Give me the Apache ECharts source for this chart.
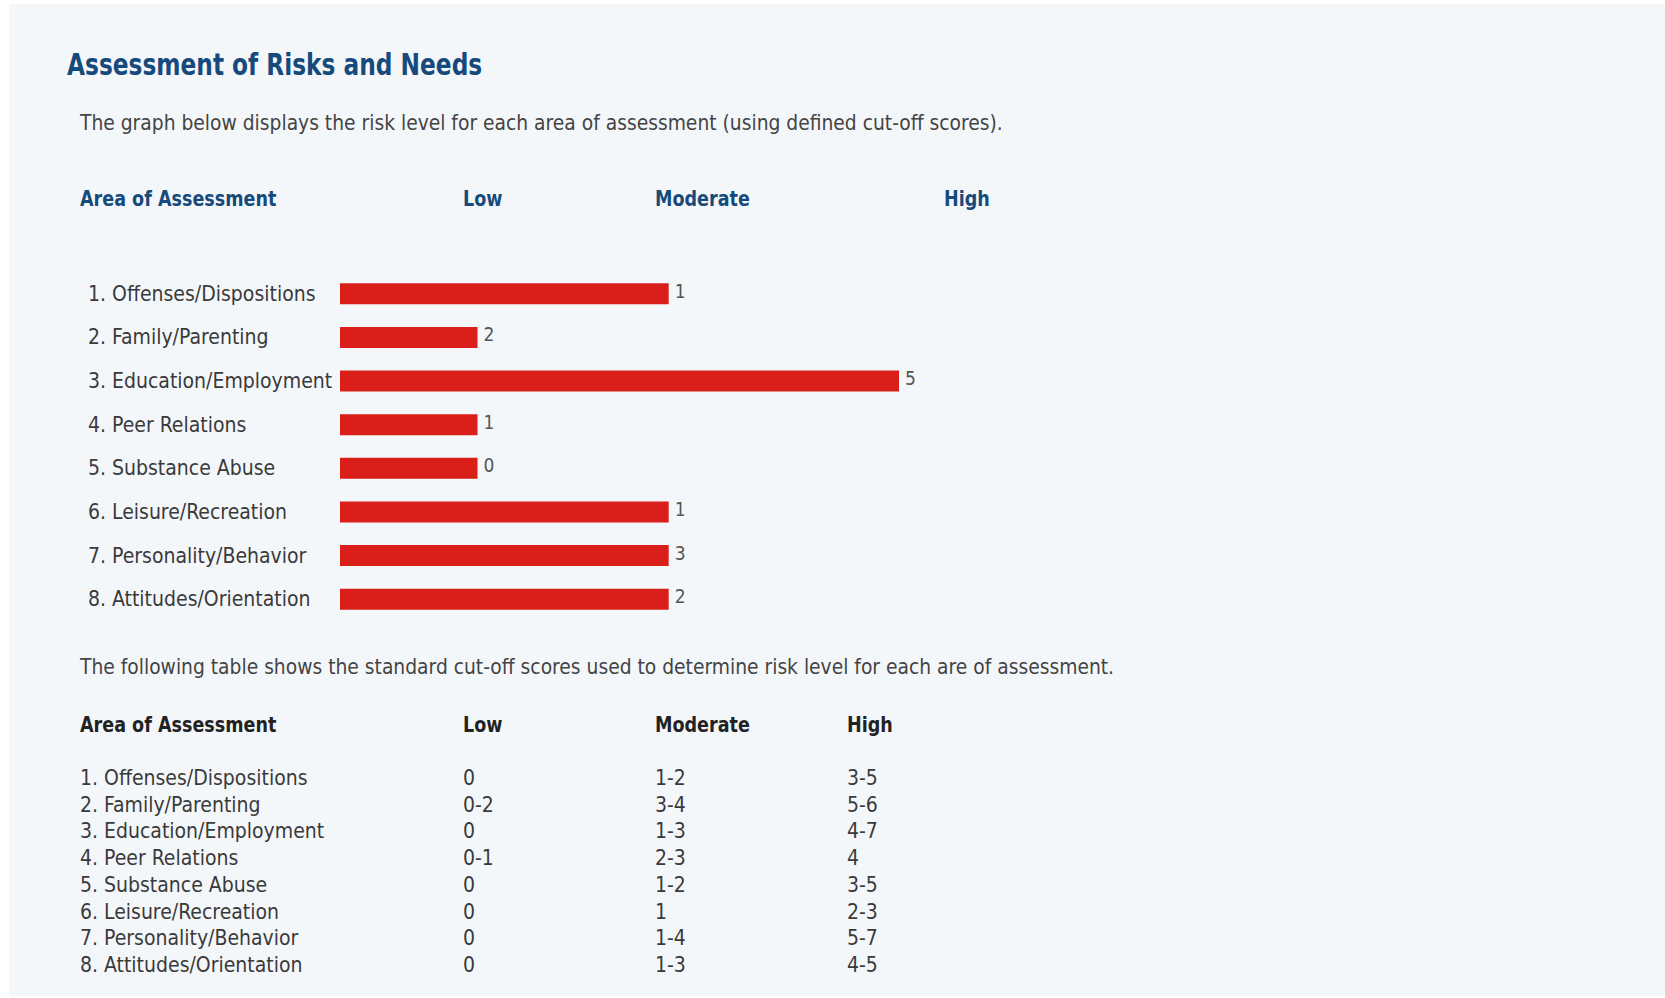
<!DOCTYPE html>
<html><head><meta charset="utf-8">
<script src="https://cdn.jsdelivr.net/npm/echarts@6/dist/echarts.min.js"></script>
<style>html,body{margin:0;padding:0;background:#fff}#c{width:1665px;height:998px}</style>
</head><body><div id="c"></div>
<script>
const categories = ['1. Offenses/Dispositions','2. Family/Parenting','3. Education/Employment','4. Peer Relations','5. Substance Abuse','6. Leisure/Recreation','7. Personality/Behavior','8. Attitudes/Orientation'];
const scores = [1, 2, 5, 1, 0, 1, 3, 2];
const riskLevels = ['Moderate','Low','High','Low','Low','Moderate','Moderate','Moderate'];
const levelNames = ['Low','Moderate','High'];
const levelLengths = [24.6, 58.8, 100];
const cutoffLow = ['0','0-2','0','0-1','0','0','0','0'];
const cutoffModerate = ['1-2','3-4','1-3','2-3','1-2','1','1-4','1-3'];
const cutoffHigh = ['3-5','5-6','4-7','4','3-5','2-3','5-7','4-5'];
const titleText = 'Assessment of Risks and Needs';
const introText = 'The graph below displays the risk level for each area of assessment (using defined cut-off scores).';
const tableIntro = 'The following table shows the standard cut-off scores used to determine risk level for each are of assessment.';
const headerArea = 'Area of Assessment';

const FONT = "'Liberation Sans Narrow','DejaVu Sans Condensed','Open Sans',sans-serif";
const BLUE = '#174a7c';
const barValues = riskLevels.map(l => levelLengths[levelNames.indexOf(l)]);

function txt(x, y, s, size, color, weight, sx) {
  return {type:'text', x:x, y:y, scaleX:sx||1,
    style:{text:s, font:(weight||'normal')+' '+size+'px '+FONT, fill:color, textVerticalAlign:'middle', verticalAlign:'middle', textAlign:'left', align:'left'}};
}
const g = [];
g.push({type:'rect', shape:{x:9,y:4,width:1656,height:992}, style:{fill:'#f4f7fa'}, z:-10});
g.push(txt(67, 64, titleText, 31, BLUE, 'bold', 0.835));
g.push(txt(80, 123, introText, 20.8, '#444'));
g.push(txt(80, 199, headerArea, 21, BLUE, 'bold', 0.93));
const hx = [463, 655, 944];
levelNames.forEach((n,i)=>g.push(txt(hx[i], 199, n, 21, BLUE, 'bold', 0.93)));
g.push(txt(80, 667, tableIntro, 20.8, '#444'));
g.push(txt(80, 725, headerArea, 21, '#222', 'bold', 0.93));
const tx = [463, 655, 847];
levelNames.forEach((n,i)=>g.push(txt(tx[i], 725, n, 21, '#222', 'bold', 0.93)));
categories.forEach((c,i)=>{
  const y = 778 + i*26.7;
  g.push(txt(80, y, c, 21, '#3a3a3a'));
  g.push(txt(463, y, cutoffLow[i], 21, '#3a3a3a'));
  g.push(txt(655, y, cutoffModerate[i], 21, '#3a3a3a'));
  g.push(txt(847, y, cutoffHigh[i], 21, '#3a3a3a'));
});

const chart = echarts.init(document.getElementById('c'), null, {renderer:'svg'});
chart.setOption({
  backgroundColor:'#ffffff',
  animation:false,
  graphic:g,
  grid:{left:340, right:766, top:272, bottom:377},
  xAxis:{type:'value', min:0, max:100, show:false},
  yAxis:{type:'category', inverse:true, data:categories,
    axisLine:{show:false}, axisTick:{show:false}, splitLine:{show:false},
    axisLabel:{align:'left', margin:252, padding:[5,0,0,0], fontFamily:FONT, fontSize:21, color:'#3a3a3a'}},
  series:[{type:'bar', data:barValues, barWidth:21,
    itemStyle:{color:'#da1f1a'},
    label:{show:true, position:'right', distance:6, offset:[0,-3], fontFamily:FONT, fontSize:19, color:'#555',
      formatter:p=>String(scores[p.dataIndex])}}]
});
</script></body></html>
